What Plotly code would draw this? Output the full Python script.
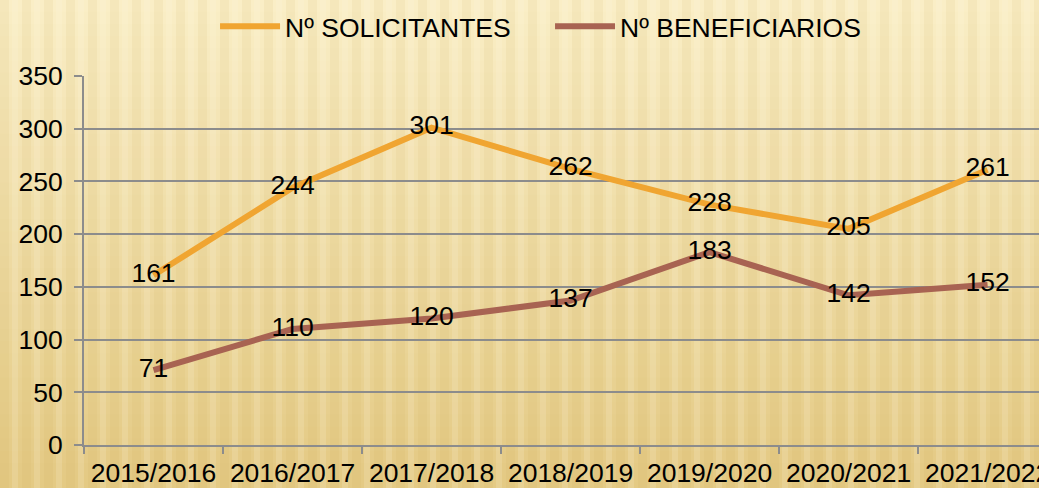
import plotly.graph_objects as go

categories = ["2015/2016", "2016/2017", "2017/2018", "2018/2019", "2019/2020", "2020/2021", "2021/2022"]
solicitantes = [161, 244, 301, 262, 228, 205, 261]
beneficiarios = [71, 110, 120, 137, 183, 142, 152]
y_ticks = [0, 50, 100, 150, 200, 250, 300, 350]

FONT = "Liberation Sans, Arial, sans-serif"
ORANGE = "#F0A531"
BROWN = "#A86352"
FS = 26.5

W, H = 1039, 488
ML, MR, MT, MB = 84, 0, 76, 43
PW, PH = W - ML - MR, H - MT - MB


def px_x(p):
    return (p - ML) / PW


def px_y(p):
    return (H - MB - p) / PH


fig = go.Figure()
fig.add_trace(go.Scatter(
    x=categories, y=solicitantes, name="Nº SOLICITANTES",
    mode="lines+text", text=[str(v) for v in solicitantes], textposition="middle center",
    line=dict(color=ORANGE, width=6), textfont=dict(size=FS, color="black", family=FONT),
))
fig.add_trace(go.Scatter(
    x=categories, y=beneficiarios, name="Nº BENEFICIARIOS",
    mode="lines+text", text=[str(v) for v in beneficiarios], textposition="middle center",
    line=dict(color=BROWN, width=6), textfont=dict(size=FS, color="black", family=FONT),
))

# background: vertical gradient over whole figure + soft vertical stripes
shapes = []
top = (250, 238, 198)
bot = (228, 202, 132)
n = 40
for i in range(n):
    t = i / (n - 1)
    c = tuple(int(top[k] + (bot[k] - top[k]) * t) for k in range(3))
    y_top = i * H / n
    y_bot = (i + 1) * H / n
    shapes.append(dict(type="rect", xref="paper", yref="paper", x0=px_x(-5), x1=px_x(W + 5),
                       y0=px_y(y_bot + 0.5), y1=px_y(y_top - 0.5),
                       fillcolor="rgb(%d,%d,%d)" % c, line=dict(width=0), layer="below"))
sw = 22
for j in range(W // sw + 2):
    x0 = j * sw
    shapes.append(dict(type="rect", xref="paper", yref="paper",
                       x0=px_x(x0), x1=px_x(x0 + 9), y0=px_y(H + 5), y1=px_y(-5),
                       fillcolor="rgba(205,165,80,0.09)", line=dict(width=0), layer="below"))
    shapes.append(dict(type="rect", xref="paper", yref="paper",
                       x0=px_x(x0 + 12), x1=px_x(x0 + 18), y0=px_y(H + 5), y1=px_y(-5),
                       fillcolor="rgba(255,250,228,0.16)", line=dict(width=0), layer="below"))

fig.update_layout(
    width=W, height=H,
    margin=dict(l=ML, r=MR, t=MT, b=MB, autoexpand=False),
    paper_bgcolor="rgb(238,218,160)",
    plot_bgcolor="rgba(0,0,0,0)",
    font=dict(family=FONT, size=FS, color="black"),
    shapes=shapes,
    showlegend=True,
    legend=dict(orientation="h", x=0.488, xanchor="center", y=0.995, yref="container", yanchor="top",
                font=dict(size=FS, family=FONT, color="black"), bgcolor="rgba(0,0,0,0)",
                itemwidth=60, entrywidth=260),
)
fig.update_xaxes(
    type="category", range=[-0.5, 6.37], automargin=False,
    showline=True, linecolor="#8C8C8C", linewidth=2,
    ticks="outside", tickson="boundaries", ticklen=7, tickcolor="#8C8C8C", tickwidth=2,
    ticklabelstandoff=3,
    showgrid=False, tickfont=dict(size=FS, family=FONT, color="black"),
)
fig.update_yaxes(
    range=[0, 350], tickvals=y_ticks, automargin=False,
    showline=True, linecolor="#8C8C8C", linewidth=2,
    ticks="outside", ticklen=8, tickcolor="#8C8C8C", tickwidth=2,
    ticklabelstandoff=6,
    showgrid=True, gridcolor="#8C8C8C", gridwidth=1.5, zeroline=False,
    tickfont=dict(size=FS, family=FONT, color="black"),
)

fig.write_html("out.html", config={"displayModeBar": False},
               post_script="document.body.style.margin='0';document.body.style.padding='0';")
